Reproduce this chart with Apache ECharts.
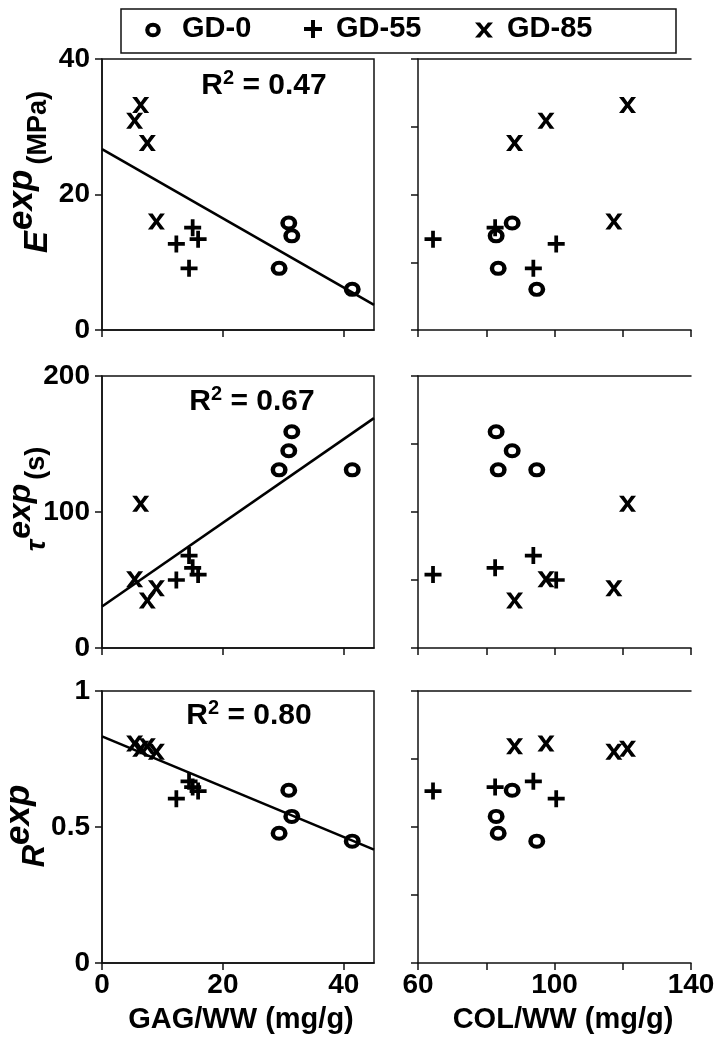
<!DOCTYPE html>
<html><head><meta charset="utf-8">
<script src="https://cdn.jsdelivr.net/npm/echarts@6/dist/echarts.min.js"></script>
<style>html,body{margin:0;padding:0;background:#fff}#c{width:719px;height:1050px}</style>
</head><body><div id="c"></div>
<script>
// ---- data ----
const groups = ['GD-0', 'GD-55', 'GD-85'];

const gd0_gag = [30.9, 31.4, 29.3, 41.4];
const gd0_col = [87.6, 82.9, 83.5, 94.8];
const gd0_E   = [15.8, 13.9, 9.1, 6.0];
const gd0_tau = [145, 159, 131, 131];
const gd0_R   = [0.635, 0.539, 0.477, 0.448];

const gd55_gag = [15.0, 15.9, 12.3, 14.4];
const gd55_col = [82.6, 64.4, 100.5, 93.8];
const gd55_E   = [15.1, 13.4, 12.7, 9.1];
const gd55_tau = [59, 54, 50, 68];
const gd55_R   = [0.647, 0.632, 0.604, 0.668];

const gd85_gag = [6.4, 5.4, 7.5, 9.0];
const gd85_col = [121.4, 97.5, 88.3, 117.4];
const gd85_E   = [33.2, 30.9, 27.6, 16.0];
const gd85_tau = [106, 50.5, 35, 44];
const gd85_R   = [0.788, 0.807, 0.797, 0.777];

const fitX   = [0, 45];
const fitE   = [26.7, 3.7];
const fitTau = [30.5, 169];
const fitR   = [0.833, 0.417];
const r2Values = ['0.47', '0.67', '0.80'];

const gagTicks  = [0, 20, 40];
const colLabels = [60, 100, 140];

// ---- styling ----
const FONT = '"Liberation Sans", Arial, Helvetica, sans-serif';
const INK = '#111';
const RING_SYM = 'path://M-1,0A1,1,0,1,0,1,0A1,1,0,1,0,-1,0ZM-0.47,0A0.47,0.47,0,1,1,0.47,0A0.47,0.47,0,1,1,-0.47,0Z';
const PLUS_PTS = [[-0.11,-0.5],[0.11,-0.5],[0.11,-0.11],[0.5,-0.11],[0.5,0.11],[0.11,0.11],[0.11,0.5],[-0.11,0.5],[-0.11,0.11],[-0.5,0.11],[-0.5,-0.11],[-0.11,-0.11]];
const CROSS_PTS = [[-0.5,-0.5],[-0.22,-0.5],[0,-0.17],[0.22,-0.5],[0.5,-0.5],[0.14,0],[0.5,0.5],[0.22,0.5],[0,0.17],[-0.22,0.5],[-0.5,0.5],[-0.14,0]];
const toSym = pts => 'path://M' + pts.map(p => p.join(',')).join('L') + 'Z';

const grp = [
  {name: groups[0], sym: RING_SYM,         size: [17, 15], gag: gd0_gag,  col: gd0_col,  E: gd0_E,  tau: gd0_tau,  R: gd0_R},
  {name: groups[1], sym: toSym(PLUS_PTS),  size: [17, 17], gag: gd55_gag, col: gd55_col, E: gd55_E, tau: gd55_tau, R: gd55_R},
  {name: groups[2], sym: toSym(CROSS_PTS), size: [17, 16], gag: gd85_gag, col: gd85_col, E: gd85_E, tau: gd85_tau, R: gd85_R}
];

const rows = [
  {key: 'E',   fit: fitE,   max: 40,  major: 20,  minor: 10,   top: 59,  h: 271},
  {key: 'tau', fit: fitTau, max: 200, major: 100, minor: 50,   top: 376, h: 272},
  {key: 'R',   fit: fitR,   max: 1,   major: 0.5, minor: 0.25, top: 691, h: 272}
];

const lineStyle = {color: INK, width: 1.5};
const tickStyle = {show: true, length: 7, lineStyle: {color: INK, width: 1.5}};
const labelFont = {fontFamily: FONT, fontWeight: 'bold', fontSize: 28, color: '#000'};

const grid = [], xAxis = [], yAxis = [], series = [];
rows.forEach((row, r) => {
  const last = r === rows.length - 1;
  grid.push({left: 102, top: row.top, width: 272, height: row.h, show: true, borderColor: INK, borderWidth: 1.5, backgroundColor: 'transparent'});
  grid.push({left: 418, top: row.top, width: 273, height: row.h});
  const gL = 2 * r, gR = 2 * r + 1;

  const xl = xAxis.length;
  xAxis.push({
    gridIndex: gL, type: 'value', min: 0, max: 45, interval: 20,
    axisLine: {show: true, lineStyle}, splitLine: {show: false},
    axisTick: Object.assign({customValues: gagTicks}, tickStyle),
    axisLabel: Object.assign({show: last, margin: 8, customValues: gagTicks}, labelFont),
    name: last ? 'GAG/WW (mg/g)' : '', nameLocation: 'middle', nameGap: 42,
    nameTextStyle: Object.assign({}, labelFont, {fontSize: 29, padding: [0, 0, 0, 6]})
  });
  const xr = xAxis.length;
  xAxis.push({
    gridIndex: gR, type: 'value', min: 60, max: 140, interval: 20,
    axisLine: {show: true, lineStyle}, splitLine: {show: false},
    axisTick: tickStyle,
    axisLabel: Object.assign({show: last, margin: 8, customValues: colLabels}, labelFont),
    name: last ? 'COL/WW (mg/g)' : '', nameLocation: 'middle', nameGap: 42,
    nameTextStyle: Object.assign({}, labelFont, {fontSize: 29, padding: [0, 0, 0, 17]})
  });
  xAxis.push({
    gridIndex: gR, type: 'value', position: 'top', min: 60, max: 140,
    axisLine: {show: true, onZero: false, lineStyle}, axisTick: {show: false},
    axisLabel: {show: false}, splitLine: {show: false}
  });

  const yl = yAxis.length;
  yAxis.push({
    gridIndex: gL, type: 'value', min: 0, max: row.max, interval: row.major,
    axisLine: {show: true, lineStyle}, splitLine: {show: false},
    axisTick: tickStyle,
    axisLabel: Object.assign({margin: 12}, labelFont)
  });
  const yr = yAxis.length;
  yAxis.push({
    gridIndex: gR, type: 'value', min: 0, max: row.max, interval: row.minor,
    axisLine: {show: true, lineStyle}, splitLine: {show: false},
    axisTick: tickStyle, axisLabel: {show: false}
  });

  series.push({
    type: 'line', name: 'fit-' + row.key, xAxisIndex: xl, yAxisIndex: yl,
    data: fitX.map((x, i) => [x, row.fit[i]]),
    showSymbol: false, symbol: 'none', lineStyle: {color: '#000', width: 2.6}, z: 2, silent: true
  });
  grp.forEach(g => {
    const ys = g[row.key];
    [[xl, yl, g.gag], [xr, yr, g.col]].forEach(([xi, yi, xs]) => {
      series.push({
        type: 'scatter', name: g.name, xAxisIndex: xi, yAxisIndex: yi,
        symbol: g.sym, symbolSize: g.size,
        itemStyle: {color: '#000', opacity: 1},
        data: xs.map((x, i) => [x, ys[i]]), z: 3
      });
    });
  });
});

// rich-text helpers: base text pushed down, superscript pushed up by P
const baseTok = (size, P, extra) => Object.assign({fontFamily: FONT, fontWeight: 'bold', fontSize: size, lineHeight: size + 1, padding: [P, 0, 0, 0], fill: '#000'}, extra || {});
const supTok = (size, P, extra) => Object.assign({fontFamily: FONT, fontWeight: 'bold', fontStyle: 'italic', fontSize: size, lineHeight: size + 1, padding: [0, 0, P, 0], fill: '#000'}, extra || {});

function yTitle(x, y, text, rich) {
  return {type: 'text', x, y, rotation: Math.PI / 2, silent: true,
    style: {text, rich, align: 'center', verticalAlign: 'middle', fontFamily: FONT, fontWeight: 'bold', fill: '#000'}};
}
function r2Text(x, y, v) {
  return {type: 'text', x, y, silent: true,
    style: {text: '{b|R}{s|2}{b| = ' + v + '}', align: 'center', verticalAlign: 'middle', fontFamily: FONT, fill: '#000',
      rich: {b: baseTok(30, 6), s: supTok(20, 6, {fontStyle: 'normal', padding: [0, 0, 10, 0]})}}};
}

const graphic = [
  yTitle(30, 172, '{i|E}{s|exp}{u|(MPa)}', {
    i: baseTok(33, 16, {fontStyle: 'italic'}), s: supTok(35, 16, {padding: [0, 3, 16, 1]}),
    u: baseTok(27, 18, {padding: [18, 0, 0, 2]})}),
  yTitle(29, 499, '{i|τ}{s|exp}{u|(s)}', {
    i: baseTok(28, 16, {fontStyle: 'italic'}), s: supTok(32, 16, {padding: [0, 4, 16, 1]}),
    u: baseTok(27, 16)}),
  yTitle(27, 826, '{i|R}{s|exp}', {
    i: baseTok(31, 16, {fontStyle: 'italic'}), s: supTok(35, 16)}),
  r2Text(264, 83, r2Values[0]),
  r2Text(252, 399, r2Values[1]),
  r2Text(249, 713, r2Values[2]),
  // legend box with the three series markers and names
  {type: 'rect', shape: {x: 121, y: 9, width: 555, height: 44}, style: {fill: '#fff', stroke: INK, lineWidth: 1.5}, silent: true},
  {type: 'ring', x: 153, y: 30, scaleY: 14 / 15, shape: {cx: 0, cy: 0, r: 7.8, r0: 3.6}, style: {fill: '#000'}, silent: true},
  {type: 'polygon', shape: {points: PLUS_PTS.map(([a, b]) => [313 + a * 18, 29 + b * 18])}, style: {fill: '#000'}, silent: true},
  {type: 'polygon', shape: {points: CROSS_PTS.map(([a, b]) => [484 + a * 18, 30 + b * 15])}, style: {fill: '#000'}, silent: true}
];
const legendTextX = [182, 336, 507];
groups.forEach((name, i) => {
  graphic.push({type: 'text', x: legendTextX[i], y: 29, silent: true,
    style: {text: name, align: 'left', verticalAlign: 'middle', fontFamily: FONT, fontWeight: 'bold', fontSize: 29, fill: '#000'}});
});

const chart = echarts.init(document.getElementById('c'), null, {renderer: 'canvas'});
chart.setOption({
  animation: false,
  backgroundColor: '#fff',
  grid, xAxis, yAxis, series, graphic
});
</script></body></html>
